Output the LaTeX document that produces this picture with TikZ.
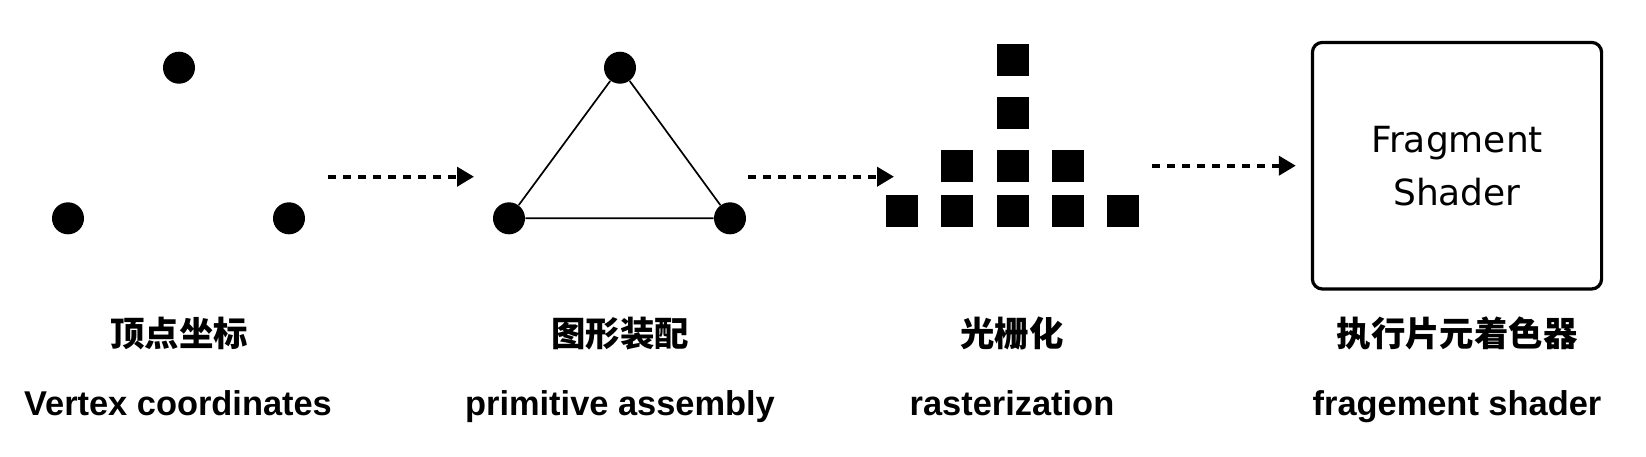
\documentclass[tikz,border=0pt]{standalone}
\usepackage{fontspec}
\setmainfont{Liberation Sans}
\newfontfamily\cjk{Noto Sans CJK SC}
\newfontfamily\boxfont{DejaVu Sans}
\usetikzlibrary{arrows.meta}

\begin{document}
\begin{tikzpicture}[x=0.5pt, y=-0.5pt,
  dot/.style={circle, fill, inner sep=0pt, minimum size=16pt},
  px/.style={fill, inner sep=0pt, minimum size=16pt},
  zh/.style={anchor=base, font=\fontsize{17.2}{21}\selectfont\cjk\bfseries},
  en/.style={anchor=base, font=\fontsize{17.2}{21}\selectfont\bfseries},
  arr/.style={-{Triangle[length=8.5pt, width=9.5pt]}, line width=2pt,
              dash pattern=on 4pt off 3.5pt}
]
  \useasboundingbox (0,0) rectangle (1646,456);

  % vertices
  \node[dot] (v1) at (179,67.7)  {};
  \node[dot] (v2) at (68,218.3)  {};
  \node[dot] (v3) at (289,218.3) {};

  % triangle
  \node[dot] (t1) at (620,67.7)  {};
  \node[dot] (t2) at (509,218.3) {};
  \node[dot] (t3) at (730,218.3) {};
  \draw[line width=0.85pt] (t1) -- (t2) (t2) -- (t3) (t3) -- (t1);

  % fragments
  \foreach \x [count=\i] in {902,957,1013,1068,1123}
    \node[px] (r1-\i) at (\x,211.3) {};
  \foreach \x [count=\i] in {957,1013,1068}
    \node[px] (r2-\i) at (\x,165.8) {};
  \node[px] (r3) at (1013,112.8) {};
  \node[px] (r4) at (1013,60.2)  {};

  % shader
  \node[draw, rounded corners=5pt, line width=1.6pt, minimum width=144.6pt,
        minimum height=123.3pt, align=center,
        font=\fontsize{18}{26.5}\selectfont\boxfont] (fs) at (1457,165.7) {Fragment\\Shader};

  % arrows
  \coordinate (a1s) at (328,176.7);
  \coordinate (a1e) at (474,176.7);
  \coordinate (a2s) at (748,176.7);
  \coordinate (a2e) at (894,176.7);
  \coordinate (a3s) at (1152,165.7);
  \draw[arr] (a1s) -- (a1e);
  \draw[arr] (a2s) -- (a2e);
  \draw[arr, shorten >=7.5pt] (a3s) -- (fs);

  % labels
  \node[zh] (z1) at (179,346)  {顶点坐标};
  \node[zh] (z2) at (620,346)  {图形装配};
  \node[zh] (z3) at (1012,346) {光栅化};
  \node[zh] (z4) at (1457,346) {执行片元着色器};
  \node[en] (e1) at (178,415)  {Vertex coordinates};
  \node[en] (e2) at (620,415)  {primitive assembly};
  \node[en] (e3) at (1012,415) {rasterization};
  \node[en] (e4) at (1457,415) {fragement shader};
\end{tikzpicture}
\end{document}
